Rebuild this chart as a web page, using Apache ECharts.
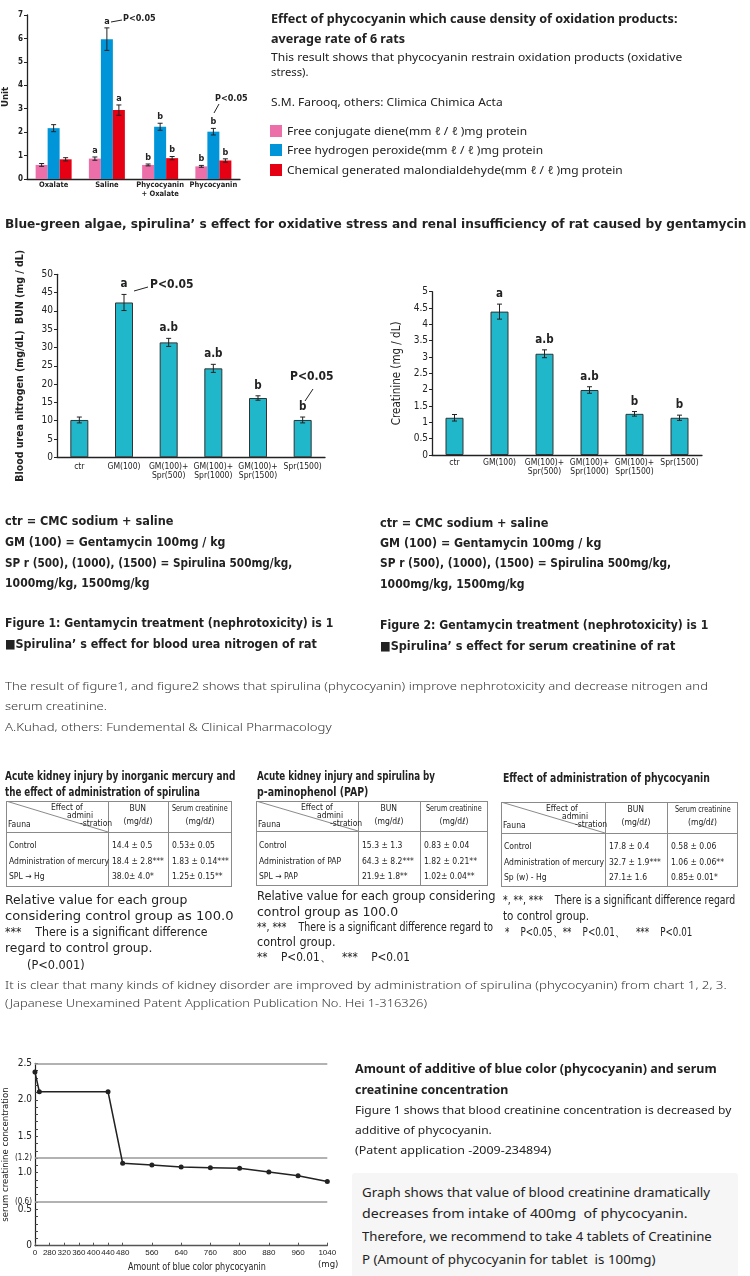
<!DOCTYPE html>
<html><head><meta charset="utf-8">
<script src="https://cdn.jsdelivr.net/npm/echarts@6/dist/echarts.min.js"></script>
<style>
html,body{margin:0;padding:0;background:#fff;}
#page{position:relative;width:750px;height:1276px;overflow:hidden;background:#fff;}
#chart{position:absolute;left:0;top:0;width:750px;height:1276px;z-index:1;}
.t{position:absolute;white-space:pre;line-height:1.25;transform-origin:0 0;z-index:3;color:#222;}
.sb{font-family:'Noto Sans','Open Sans',sans-serif;font-weight:700;}
.sr{font-family:'Noto Sans','Open Sans',sans-serif;font-weight:400;}
.cb{font-family:'Liberation Sans Narrow','DejaVu Sans Condensed','Noto Sans',sans-serif;font-weight:700;}
.cr{font-family:'Liberation Sans Narrow','DejaVu Sans Condensed','Noto Sans',sans-serif;font-weight:400;}
.lt{font-family:'Noto Sans','Open Sans',sans-serif;font-weight:300;color:#333;}
.box{position:absolute;z-index:2;}
</style>
</head><body>
<div id="page"><div id="chart"></div></div>
<script>
// ================= DATA =================
// Chart A: oxidation products (4 groups, 3 series)
const oxCategories = ['Oxalate', 'Saline', 'Phycocyanin\n+ Oxalate', 'Phycocyanin'];
const dieneValues = [0.6, 0.87, 0.6, 0.54];
const dieneErr = [0.06, 0.07, 0.04, 0.04];
const peroxValues = [2.17, 5.97, 2.23, 2.02];
const peroxErr = [0.15, 0.48, 0.15, 0.14];
const mdaValues = [0.84, 2.94, 0.89, 0.79];
const mdaErr = [0.07, 0.22, 0.07, 0.07];
const dieneMarks = ['', 'a', 'b', 'b'];
const peroxMarks = ['', 'a', 'b', 'b'];
const mdaMarks = ['', 'a', 'b', 'b'];
const oxLegend = ['Free conjugate diene(mm ℓ / ℓ )mg protein', 'Free hydrogen peroxide(mm ℓ / ℓ )mg protein', 'Chemical generated malondialdehyde(mm ℓ / ℓ )mg protein'];

// Charts B & C: gentamycin renal study
const renalCategories = ['ctr', 'GM(100)', 'GM(100)+\nSpr(500)', 'GM(100)+\nSpr(1000)', 'GM(100)+\nSpr(1500)', 'Spr(1500)'];
const bunValues = [10.2, 42.3, 31.4, 24.3, 16.2, 10.2];
const bunErr = [0.8, 2.2, 1.1, 1.1, 0.6, 0.8];
const bunMarks = ['', 'a', 'a.b', 'a.b', 'b', 'b'];
const creatValues = [1.14, 4.39, 3.1, 1.99, 1.26, 1.14];
const creatErr = [0.1, 0.23, 0.12, 0.1, 0.07, 0.08];
const creatMarks = ['', 'a', 'a.b', 'a.b', 'b', 'b'];

// Chart D: serum creatinine vs amount of phycocyanin (axis drawn in label slots)
const doseTickLabels = ['0', '280', '320', '360', '400', '440', '480', '560', '640', '760', '800', '880', '960', '1040'];
const doseTickSlots = [0, 1, 2, 3, 4, 5, 6, 8, 10, 12, 14, 16, 18, 20];
const curveSlots = [0, 0.3, 5, 6, 8, 10, 12, 14, 16, 18, 20];
const curveValues = [2.38, 2.11, 2.11, 1.13, 1.105, 1.08, 1.07, 1.06, 1.01, 0.96, 0.88];
const refLines = [2.5, 1.2, 0.6];
const creatTickValues = [0, 0.5, 0.6, 1.0, 1.2, 1.5, 2.0, 2.5];
const creatTickLabels = ['0', '0.5', '(0.6)', '1.0', '(1.2)', '1.5', '2.0', '2.5'];
const creatMinorTicks = [0,0.1,0.2,0.3,0.4,0.5,0.6,0.7,0.8,0.9,1.0,1.1,1.2,1.3,1.4,1.5,1.6,1.7,1.8,1.9,2.0,2.1,2.2,2.3,2.4,2.5];

// Tables
const headCorner = ['Effect of', 'admini', '-stration', 'Fauna'];
const colHeads = [['BUN', '(mg/dℓ)'], ['Serum creatinine', '(mg/dℓ)']];
const t1Rows = ['Control', 'Administration of mercury', 'SPL → Hg'];
const t1Bun = ['14.4 ± 0.5', '18.4 ± 2.8***', '38.0± 4.0*'];
const t1Cre = ['0.53± 0.05', '1.83 ± 0.14***', '1.25± 0.15**'];
const t2Rows = ['Control', 'Administration of PAP', 'SPL → PAP'];
const t2Bun = ['15.3 ± 1.3', '64.3 ± 8.2***', '21.9± 1.8**'];
const t2Cre = ['0.83 ± 0.04', '1.82 ± 0.21**', '1.02± 0.04**'];
const t3Rows = ['Control', 'Administration of mercury', 'Sp (w) - Hg'];
const t3Bun = ['17.8 ± 0.4', '32.7 ± 1.9***', '27.1± 1.6'];
const t3Cre = ['0.58 ± 0.06', '1.06 ± 0.06**', '0.85± 0.01*'];

// ================= TEXT =================
const page = document.getElementById('page');
function put(x, y, s, cls, size, w, align, color) {
  const d = document.createElement('div');
  d.className = 't ' + cls;
  d.style.fontSize = size + 'px';
  if (color) d.style.color = color;
  d.textContent = s;
  page.appendChild(d);
  const h = d.offsetHeight, aw = d.offsetWidth;
  const sx = w ? w / aw : 1;
  const vis = aw * sx;
  const left = align === 'c' ? x - vis / 2 : (align === 'r' ? x - vis : x);
  d.style.left = left + 'px';
  d.style.top = (y - h / 2) + 'px';
  d.style.transform = 'scaleX(' + sx + ')';
  return d;
}
function rect(x, y, w, h, css) {
  const d = document.createElement('div');
  d.className = 'box';
  d.style.left = x + 'px'; d.style.top = y + 'px';
  d.style.width = w + 'px'; d.style.height = h + 'px';
  Object.assign(d.style, css || {});
  page.appendChild(d);
  return d;
}

// top right block
put(271, 18, 'Effect of phycocyanin which cause density of oxidation products:', 'sb', 12, 406);
put(271, 38, 'average rate of 6 rats', 'sb', 12, 134);
put(271, 57, 'This result shows that phycocyanin restrain oxidation products (oxidative', 'sr', 11, 411);
put(271, 72, 'stress).', 'sr', 11, 38);
put(271, 102, 'S.M. Farooq, others: Climica Chimica Acta', 'sr', 11, 232);
const legendColors = ['#EC6FA9', '#0095D9', '#E60013'];
const legendY = [131, 150, 170];
oxLegend.forEach((s, i) => {
  rect(270, legendY[i] - 6, 12, 12, {background: legendColors[i]});
  put(287, legendY[i], s, 'sr', 11, [240, 256, 336][i]);
});

// section heading
put(5, 224, 'Blue-green algae, spirulina’ s effect for oxidative stress and renal insufficiency of rat caused by gentamycin', 'cb', 12.5, 741);

// explanatory blocks under charts
const leftLines = [
  ['ctr = CMC sodium + saline', 168], ['GM (100) = Gentamycin 100mg / kg', 220],
  ['SP r (500), (1000), (1500) = Spirulina 500mg/kg,', 287], ['1000mg/kg, 1500mg/kg', 145]];
const leftY = [521, 542, 563, 583];
const rightY = [523, 543, 563, 584];
const rightW = [168, 221, 291, 145];
leftLines.forEach((l, i) => {
  put(5, leftY[i], l[0], 'cb', 12.5, l[1]);
  put(380, rightY[i], l[0], 'cb', 12.5, rightW[i]);
});
put(5, 623, 'Figure 1: Gentamycin treatment (nephrotoxicity) is 1', 'cb', 12.5, 328);
put(5, 644, '■Spirulina’ s effect for blood urea nitrogen of rat', 'cb', 12.5, 312);
put(380, 625, 'Figure 2: Gentamycin treatment (nephrotoxicity) is 1', 'cb', 12.5, 328);
put(380, 646, '■Spirulina’ s effect for serum creatinine of rat', 'cb', 12.5, 295);
put(5, 686, 'The result of figure1, and figure2 shows that spirulina (phycocyanin) improve nephrotoxicity and decrease nitrogen and', 'lt', 11, 703);
put(5, 706, 'serum creatinine.', 'lt', 11, 102);
put(5, 727, 'A.Kuhad, others: Fundemental & Clinical Pharmacology', 'lt', 11, 326);

// tables
function drawTable(g, titles, rows, bun, cre, notes) {
  titles.forEach(t => put(t[0], t[1], t[2], 'cb', 11.5, t[3]));
  const bc = '#8a8a8a';
  rect(g.x0, g.y0, g.x3 - g.x0, g.y3 - g.y0, {border: '1px solid ' + bc, boxSizing: 'border-box'});
  rect(g.x1, g.y0, 1, g.y3 - g.y0, {background: bc});
  rect(g.x2, g.y0, 1, g.y3 - g.y0, {background: bc});
  rect(g.x0, g.yh, g.x3 - g.x0, 1, {background: bc});
  const svg = document.createElementNS('http://www.w3.org/2000/svg', 'svg');
  svg.setAttribute('width', g.x1 - g.x0); svg.setAttribute('height', g.yh - g.y0);
  svg.style.cssText = 'position:absolute;z-index:2;left:' + g.x0 + 'px;top:' + g.y0 + 'px';
  svg.innerHTML = '<line x1="0" y1="0" x2="' + (g.x1 - g.x0) + '" y2="' + (g.yh - g.y0) + '" stroke="' + bc + '" stroke-width="1"/>';
  page.appendChild(svg);
  put(g.x0 + 45, g.y0 + 6.5, headCorner[0], 'cr', 8.5);
  put(g.x0 + 61, g.y0 + 14, headCorner[1], 'cr', 8.5);
  put(g.x0 + 74, g.y0 + 22, headCorner[2], 'cr', 8.5);
  put(g.x0 + 2, g.y0 + 23, headCorner[3], 'cr', 8.5);
  put((g.x1 + g.x2) / 2, g.y0 + 7, colHeads[0][0], 'cr', 8.5, null, 'c');
  put((g.x1 + g.x2) / 2, g.y0 + 20, colHeads[0][1], 'cr', 8.5, null, 'c');
  put((g.x2 + g.x3) / 2, g.y0 + 7, colHeads[1][0], 'cr', 8.5, 56, 'c');
  put((g.x2 + g.x3) / 2, g.y0 + 20, colHeads[1][1], 'cr', 8.5, null, 'c');
  const ry = [44, 60, 75];
  rows.forEach((r, i) => {
    put(g.x0 + 3, g.y0 + ry[i], r, 'cr', 8.5);
    put(g.x1 + 4, g.y0 + ry[i], bun[i], 'cr', 8.5);
    put(g.x2 + 4, g.y0 + ry[i], cre[i], 'cr', 8.5);
  });
  notes.forEach(n => put(n[0], n[1], n[2], 'cr', 11.5, n[3]));
}
drawTable({x0: 6, x1: 108, x2: 168, x3: 232, y0: 801, yh: 832, y3: 887},
  [[5, 776, 'Acute kidney injury by inorganic mercury and', 230], [5, 792, 'the effect of administration of spirulina', 195]],
  t1Rows, t1Bun, t1Cre,
  [[5, 900, 'Relative value for each group', 182], [5, 916, 'considering control group as 100.0', 228],
   [5, 932, '***    There is a significant difference', 202], [5, 948, 'regard to control group.', 147], [27, 965, '(P<0.001)', 58]]);
drawTable({x0: 256, x1: 358, x2: 420, x3: 488, y0: 801, yh: 831, y3: 886},
  [[257, 776, 'Acute kidney injury and spirulina by', 178], [257, 792, 'p-aminophenol (PAP)', 111]],
  t2Rows, t2Bun, t2Cre,
  [[257, 896, 'Relative value for each group considering', 239], [257, 912, 'control group as 100.0', 141],
   [257, 927, '**, ***    There is a significant difference regard to', 236], [257, 942, 'control group.', 78], [257, 957, '**    P<0.01、   ***    P<0.01', 153]]);
drawTable({x0: 501, x1: 605, x2: 667, x3: 738, y0: 802, yh: 833, y3: 887},
  [[503, 778, 'Effect of administration of phycocyanin', 207]],
  t3Rows, t3Bun, t3Cre,
  [[503, 900, '*, **, ***    There is a significant difference regard', 232], [503, 916, 'to control group.', 86],
   [505, 932, '*    P<0.05、**    P<0.01、    ***    P<0.01', 187]]);

put(5, 985, 'It is clear that many kinds of kidney disorder are improved by administration of spirulina (phycocyanin) from chart 1, 2, 3.', 'lt', 11, 722);
put(5, 1003, '(Japanese Unexamined Patent Application Publication No. Hei 1-316326)', 'lt', 11, 422);

// bottom right
put(355, 1068, 'Amount of additive of blue color (phycocyanin) and serum', 'sb', 12, 362);
put(355, 1089, 'creatinine concentration', 'sb', 12, 153);
put(355, 1110, 'Figure 1 shows that blood creatinine concentration is decreased by', 'sr', 11, 376);
put(355, 1130, 'additive of phycocyanin.', 'sr', 11, 137);
put(355, 1150, '(Patent application -2009-234894)', 'sr', 11, 196);
rect(352, 1173, 386, 110, {background: '#f6f6f6', borderRadius: '3px'});
put(362, 1193, 'Graph shows that value of blood creatinine dramatically', 'sr', 12.5, 348);
put(362, 1214, 'decreases from intake of 400mg  of phycocyanin.', 'sr', 12.5, 325);
put(362, 1237, 'Therefore, we recommend to take 4 tablets of Creatinine', 'sr', 12.5, 350);
put(362, 1260, 'P (Amount of phycocyanin for tablet  is 100mg)', 'sr', 12.5, 294);
put(197, 1267, 'Amount of blue color phycocyanin', 'cr', 10, 138, 'c');
put(328, 1264, '(mg)', 'cr', 9.5, null, 'c');

// ================= CHARTS =================
const cond = "'Liberation Sans Narrow','DejaVu Sans Condensed',sans-serif";
const narrow = "'Liberation Sans',Arial,sans-serif";
const ink = '#222';
function errSeries(gi, values, errs, marks, off, cap, font, gap) {
  return {
    type: 'custom', xAxisIndex: gi, yAxisIndex: gi, z: 10, silent: true,
    data: values.map((v, i) => [i, v, errs[i]]),
    renderItem: (params, api) => {
      const i = api.value(0), v = api.value(1), e = api.value(2);
      const hi = api.coord([i, v + e]), lo = api.coord([i, v - e]);
      const x = hi[0] + off;
      const st = {stroke: ink, lineWidth: 1};
      const ch = [
        {type: 'line', shape: {x1: x, y1: hi[1], x2: x, y2: lo[1]}, style: st},
        {type: 'line', shape: {x1: x - cap, y1: hi[1], x2: x + cap, y2: hi[1]}, style: st},
        {type: 'line', shape: {x1: x - cap, y1: lo[1], x2: x + cap, y2: lo[1]}, style: st}
      ];
      const m = marks[params.dataIndex];
      if (m) ch.push({type: 'text', x: x, y: hi[1] - gap, style: {text: m, align: 'center', verticalAlign: 'bottom', font: font, fill: ink}});
      return {type: 'group', children: ch};
    }
  };
}
function barAxisX(gi, data, fs, margin, lh) {
  return {gridIndex: gi, type: 'category', data: data,
    axisLine: {lineStyle: {color: ink, width: 1.3}},
    axisTick: {length: 4, lineStyle: {color: ink}},
    axisLabel: {interval: 0, fontSize: fs, color: ink, margin: margin, lineHeight: lh, fontFamily: cond, fontWeight: gi === 0 ? 'bold' : 'normal'}};
}
function barAxisY(gi, max, interval, fs, name, nameGap, nameFs, bold) {
  return {gridIndex: gi, type: 'value', min: 0, max: max, interval: interval,
    name: name, nameLocation: 'middle', nameGap: nameGap,
    nameTextStyle: {fontSize: nameFs, color: ink, fontFamily: cond, fontWeight: bold ? 'bold' : 'normal'},
    axisLine: {show: true, lineStyle: {color: ink, width: 1.3}},
    axisTick: {show: true, length: 3, lineStyle: {color: ink}},
    splitLine: {show: false},
    axisLabel: {fontSize: fs, color: ink, margin: 4, fontFamily: cond, fontWeight: gi === 0 ? 'bold' : 'normal'}};
}
const teal = '#1FB7C9';
const option = {
  animation: false,
  grid: [
    {left: 26, top: 15, width: 214, height: 164},
    {left: 57, top: 274.3, width: 268, height: 183},
    {left: 432, top: 291.7, width: 270, height: 163.3},
    {left: 33.3, top: 1063.3, width: 294, height: 182.4}
  ],
  xAxis: [
    barAxisX(0, oxCategories, 7.5, 2, 8.5),
    barAxisX(1, renalCategories, 8.5, 5, 9),
    barAxisX(2, renalCategories, 8.5, 3.5, 9),
    {gridIndex: 3, type: 'value', min: 0, max: 20,
      axisLine: {show: true, onZero: false, lineStyle: {color: '#555', width: 1.3}},
      axisTick: {show: true, inside: true, length: 3, customValues: doseTickSlots, lineStyle: {color: '#555'}},
      splitLine: {show: false},
      axisLabel: {customValues: doseTickSlots, margin: 3, fontSize: 8, color: ink, fontFamily: narrow,
        formatter: v => { const k = doseTickSlots.findIndex(s => Math.abs(s - v) < 1e-6); return k >= 0 ? doseTickLabels[k] : ''; }}}
  ],
  yAxis: [
    barAxisY(0, 7, 1, 8, 'Unit', 16, 9.5, true),
    barAxisY(1, 50, 5, 10, 'Blood urea nitrogen (mg/dL)  BUN (mg / dL)', 31, 10.5, true),
    barAxisY(2, 5, 0.5, 10, 'Creatinine (mg / dL)', 29, 11.5, false),
    {gridIndex: 3, type: 'value', min: 0, max: 2.5, interval: 0.5,
      name: 'serum creatinine concentration', nameLocation: 'middle', nameGap: 22,
      nameTextStyle: {fontSize: 9.5, color: ink, fontFamily: cond},
      axisLine: {show: true, lineStyle: {color: ink, width: 1.2}},
      axisTick: {show: true, inside: true, length: 3, customValues: creatMinorTicks, lineStyle: {color: '#444'}},
      splitLine: {show: false},
      axisLabel: {customValues: creatTickValues, margin: 3, fontSize: 10, color: ink, fontFamily: cond,
        rich: {s: {fontSize: 8, fontFamily: cond, color: ink}},
        formatter: v => { const k = creatTickValues.findIndex(s => Math.abs(s - v) < 1e-6); if (k < 0) return ''; const t = creatTickLabels[k]; return t[0] === '(' ? '{s|' + t + '}' : t; }}}
  ],
  series: [
    {type: 'bar', xAxisIndex: 0, yAxisIndex: 0, data: dieneValues, barWidth: 12, barGap: '0%', itemStyle: {color: legendColors[0]}},
    {type: 'bar', xAxisIndex: 0, yAxisIndex: 0, data: peroxValues, barWidth: 12, barGap: '0%', itemStyle: {color: legendColors[1]}},
    {type: 'bar', xAxisIndex: 0, yAxisIndex: 0, data: mdaValues, barWidth: 12, barGap: '0%', itemStyle: {color: legendColors[2]}},
    errSeries(0, dieneValues, dieneErr, dieneMarks, -12, 2.5, 'bold 9px ' + cond, 2),
    errSeries(0, peroxValues, peroxErr, peroxMarks, 0, 2.5, 'bold 9px ' + cond, 2),
    errSeries(0, mdaValues, mdaErr, mdaMarks, 12, 2.5, 'bold 9px ' + cond, 2),
    {type: 'bar', xAxisIndex: 1, yAxisIndex: 1, data: bunValues, barWidth: 18, itemStyle: {color: teal, borderColor: '#333', borderWidth: 1}},
    errSeries(1, bunValues, bunErr, bunMarks, 0, 2.5, 'bold 11.5px ' + cond, 4),
    {type: 'bar', xAxisIndex: 2, yAxisIndex: 2, data: creatValues, barWidth: 18, itemStyle: {color: teal, borderColor: '#333', borderWidth: 1}},
    errSeries(2, creatValues, creatErr, creatMarks, 0, 2.5, 'bold 11.5px ' + cond, 4),
    {type: 'line', xAxisIndex: 3, yAxisIndex: 3, data: curveSlots.map((s, i) => [s, curveValues[i]]),
      symbol: 'circle', symbolSize: 5, lineStyle: {color: ink, width: 1.5}, itemStyle: {color: ink},
      markLine: {silent: true, symbol: 'none', label: {show: false}, lineStyle: {color: '#999', width: 1.5, type: 'solid'},
        data: refLines.map(v => ({yAxis: v}))}, z: 5}
  ],
  graphic: [
    {type: 'line', shape: {x1: 111, y1: 22, x2: 122, y2: 20}, style: {stroke: ink, lineWidth: 1}},
    {type: 'text', x: 123, y: 19, style: {text: 'P<0.05', font: 'bold 9px ' + cond, fill: ink, verticalAlign: 'middle'}},
    {type: 'line', shape: {x1: 219, y1: 104, x2: 214, y2: 113}, style: {stroke: ink, lineWidth: 1}},
    {type: 'text', x: 215, y: 99, style: {text: 'P<0.05', font: 'bold 9px ' + cond, fill: ink, verticalAlign: 'middle'}},
    {type: 'line', shape: {x1: 134, y1: 291, x2: 148, y2: 287}, style: {stroke: ink, lineWidth: 1}},
    {type: 'text', x: 150, y: 285, style: {text: 'P<0.05', font: 'bold 12px ' + cond, fill: ink, verticalAlign: 'middle'}},
    {type: 'line', shape: {x1: 313, y1: 389, x2: 305, y2: 401}, style: {stroke: ink, lineWidth: 1}},
    {type: 'text', x: 290, y: 377, style: {text: 'P<0.05', font: 'bold 12px ' + cond, fill: ink, verticalAlign: 'middle'}}
  ]
};
const chart = echarts.init(document.getElementById('chart'));
chart.setOption(option);
</script>
</body></html>
